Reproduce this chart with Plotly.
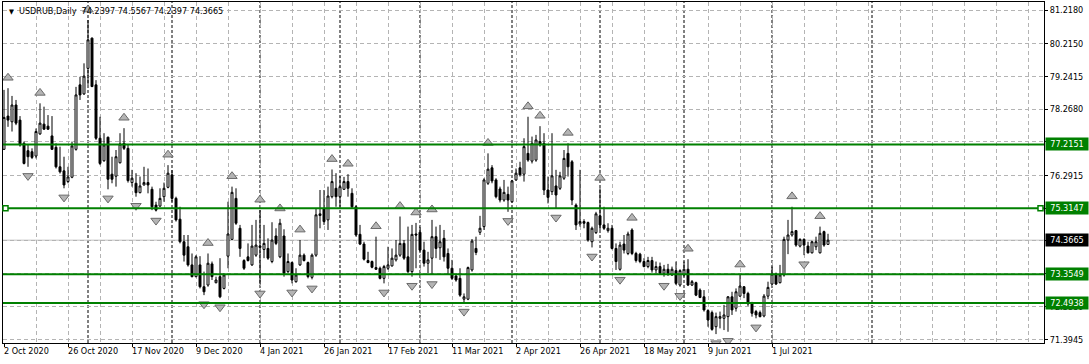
import plotly.graph_objects as go

# ---------------- data ----------------
open_ = [77.07, 78.06, 77.89, 78.39, 77.94, 77.25, 77.03, 77.00, 76.87, 77.53,
         77.82, 77.76, 77.47, 77.13, 76.55, 76.43, 76.11, 76.24, 77.07, 78.99,
         78.72, 79.48, 80.38, 78.99, 77.40, 76.73, 77.43, 76.33, 76.27, 76.67,
         77.25, 77.10, 76.08, 76.06, 75.78, 76.01, 76.08, 75.88, 75.41, 75.38,
         75.66, 75.94, 76.31, 75.61, 74.99, 74.32, 74.17, 73.63, 73.28, 73.63,
         72.98, 73.03, 73.66, 73.10, 73.28, 72.93, 73.89, 74.39, 75.61, 74.72,
         73.76, 73.87, 73.63, 73.92, 74.19, 74.09, 74.12, 73.73, 74.49, 73.87,
         74.49, 73.43, 73.70, 73.13, 73.63, 73.92, 73.70, 73.26, 73.92, 75.10,
         75.31, 74.97, 75.66, 75.91, 75.66, 75.88, 76.11, 75.76, 75.36, 74.54,
         74.25, 73.76, 73.73, 73.55, 73.53, 73.23, 73.53, 73.60, 73.78, 73.92,
         74.27, 73.87, 73.43, 74.55, 74.60, 74.07, 73.68, 73.83, 74.47, 74.14,
         74.42, 73.97, 73.53, 73.30, 73.23, 72.61, 72.61, 73.48, 74.12, 74.60,
         74.77, 76.06, 76.52, 76.16, 75.89, 75.56, 75.73, 75.51, 76.16, 76.52,
         76.33, 76.95, 76.72, 76.75, 77.30, 77.25, 75.86, 75.81, 75.98, 75.91,
         76.21, 76.95, 76.70, 75.41, 74.85, 74.92, 74.89, 74.32, 74.59, 75.09,
         74.82, 74.65, 74.72, 74.12, 73.50, 74.25, 73.97, 74.67, 73.97, 73.95,
         73.73, 73.58, 73.76, 73.48, 73.58, 73.38, 73.50, 73.33, 73.46, 73.03,
         73.33, 73.50, 73.03, 73.10, 72.88, 72.68, 72.27, 72.21, 71.79, 72.04,
         72.04, 72.09, 72.68, 72.34, 72.70, 72.98, 72.78, 72.47, 72.24, 72.21,
         72.11, 72.70, 73.06, 73.36, 73.10, 73.33, 74.37, 74.52, 74.65, 74.19,
         74.39, 74.19, 73.99, 74.17, 73.99, 74.62, 74.2397]
high = [78.84, 78.89, 78.66, 78.54, 78.06, 77.30, 77.20, 77.10, 77.69, 78.44,
        78.34, 78.09, 78.06, 77.25, 77.15, 76.85, 76.55, 77.30, 78.93, 79.23,
        79.63, 80.92, 80.40, 79.13, 78.04, 77.55, 77.45, 76.85, 77.05, 77.55,
        77.70, 77.20, 76.46, 76.36, 76.26, 76.55, 76.50, 75.96, 75.51, 75.91,
        76.08, 76.60, 76.45, 75.66, 75.36, 74.52, 74.52, 73.97, 73.92, 73.89,
        73.43, 73.97, 73.73, 73.28, 73.83, 73.38, 75.51, 75.96, 75.91, 74.82,
        73.80, 74.27, 74.82, 74.97, 75.26, 74.82, 74.42, 74.90, 74.72, 75.00,
        74.69, 73.97, 73.73, 73.53, 74.37, 73.97, 73.73, 73.97, 75.31, 75.86,
        75.86, 75.96, 76.47, 76.36, 76.28, 76.25, 76.33, 75.91, 75.41, 74.82,
        74.32, 74.02, 73.76, 74.47, 73.58, 73.63, 74.17, 74.12, 74.37, 75.07,
        74.37, 74.77, 74.82, 74.88, 74.77, 74.32, 74.02, 74.97, 74.77, 74.82,
        74.67, 74.12, 73.78, 73.38, 73.53, 72.78, 73.58, 74.40, 74.47, 75.09,
        76.21, 76.95, 76.60, 76.21, 75.96, 76.16, 75.96, 76.16, 76.50, 76.70,
        77.40, 78.04, 77.45, 77.50, 77.76, 77.55, 76.26, 77.55, 76.46, 76.40,
        77.05, 77.25, 76.75, 75.46, 76.46, 74.99, 74.92, 74.77, 75.21, 75.91,
        75.36, 74.87, 74.82, 74.27, 74.32, 74.52, 74.62, 74.72, 74.02, 73.99,
        73.83, 73.87, 73.87, 73.73, 73.70, 73.63, 73.66, 73.58, 73.73, 73.50,
        73.73, 73.80, 73.18, 73.13, 72.93, 72.88, 72.31, 72.27, 72.21, 72.24,
        72.44, 72.70, 72.83, 72.93, 73.33, 73.00, 72.83, 72.53, 72.29, 72.27,
        72.76, 73.13, 73.58, 73.40, 73.63, 74.47, 74.97, 75.36, 74.67, 74.42,
        74.42, 74.32, 74.35, 74.47, 74.77, 74.65, 74.5567]
low = [77.05, 77.74, 77.60, 77.79, 77.15, 76.62, 76.55, 76.78, 76.80, 77.50,
       77.65, 77.65, 77.05, 76.50, 76.35, 75.91, 76.06, 76.21, 77.03, 78.54,
       78.69, 78.99, 78.92, 77.35, 76.60, 76.70, 75.88, 76.06, 75.96, 76.65,
       77.05, 76.08, 75.96, 75.66, 75.76, 75.99, 75.76, 75.26, 75.22, 75.36,
       75.51, 75.91, 75.51, 74.92, 74.27, 73.73, 73.58, 73.26, 73.26, 72.93,
       72.73, 72.98, 73.18, 73.08, 72.64, 72.90, 73.53, 74.37, 74.82, 73.87,
       73.48, 73.73, 73.60, 73.87, 73.05, 73.83, 73.78, 73.68, 74.22, 73.83,
       73.28, 73.38, 73.08, 73.10, 73.60, 73.73, 73.23, 73.20, 73.87, 74.72,
       74.82, 74.67, 75.61, 75.36, 75.36, 75.86, 75.66, 75.31, 74.47, 74.22,
       73.76, 73.68, 73.53, 73.48, 73.20, 73.08, 73.48, 73.58, 73.73, 73.87,
       73.78, 73.38, 73.28, 73.53, 74.02, 73.58, 73.38, 73.33, 73.83, 73.78,
       73.73, 73.33, 73.18, 73.13, 72.68, 72.51, 72.58, 73.43, 73.92, 74.52,
       74.67, 76.01, 76.06, 75.61, 75.49, 75.51, 75.21, 75.49, 76.13, 76.26,
       76.11, 76.70, 76.65, 76.70, 77.15, 75.71, 75.46, 75.71, 75.31, 75.86,
       76.16, 76.26, 75.41, 74.67, 74.77, 74.72, 74.32, 74.15, 74.55, 74.67,
       74.67, 74.59, 74.09, 73.48, 73.46, 73.97, 73.92, 73.92, 73.70, 73.68,
       73.56, 73.53, 73.40, 73.38, 73.36, 73.28, 73.30, 73.30, 73.03, 72.98,
       73.28, 73.00, 73.00, 72.70, 72.64, 72.24, 71.79, 71.67, 71.57, 71.74,
       71.69, 71.64, 72.14, 72.24, 72.68, 72.64, 72.41, 72.09, 72.04, 72.07,
       72.07, 72.61, 73.03, 73.03, 73.08, 73.28, 73.95, 74.47, 74.17, 74.15,
       73.92, 73.97, 73.97, 74.07, 73.97, 74.17, 74.2397]
close = [78.02, 77.94, 78.39, 77.85, 77.20, 76.65, 76.85, 76.83, 77.60, 77.85,
         77.67, 77.67, 77.07, 76.55, 76.40, 76.01, 76.25, 77.17, 78.69, 78.69,
         79.25, 80.33, 78.94, 77.40, 76.65, 77.20, 76.18, 76.18, 76.85, 77.23,
         77.10, 76.14, 76.21, 75.78, 75.98, 76.08, 76.01, 75.36, 75.26, 75.61,
         75.91, 76.36, 75.61, 74.97, 74.32, 73.92, 73.63, 73.28, 73.87, 72.98,
         72.83, 73.68, 73.28, 73.18, 72.68, 73.33, 74.55, 75.79, 74.87, 74.12,
         73.53, 73.76, 74.19, 74.22, 74.15, 74.27, 73.83, 74.37, 74.27, 74.87,
         73.38, 73.73, 73.18, 73.33, 73.92, 73.76, 73.28, 73.92, 75.12, 75.15,
         74.92, 75.68, 76.11, 75.66, 75.96, 76.11, 75.91, 75.36, 74.52, 74.25,
         73.80, 73.70, 73.56, 73.50, 73.23, 73.58, 73.63, 73.83, 73.92, 74.27,
         73.83, 73.43, 74.54, 74.52, 74.07, 73.68, 73.78, 74.47, 74.12, 74.32,
         73.87, 73.53, 73.23, 73.18, 72.73, 72.68, 73.55, 74.34, 74.00, 74.72,
         76.16, 76.48, 76.13, 75.66, 75.56, 75.79, 75.56, 76.13, 76.36, 76.31,
         77.15, 76.75, 77.25, 77.35, 77.20, 75.86, 75.64, 76.28, 75.71, 76.28,
         76.80, 76.55, 75.56, 74.82, 74.92, 74.87, 74.37, 74.72, 75.15, 74.82,
         74.72, 74.72, 74.12, 73.73, 74.22, 74.07, 74.55, 73.97, 73.76, 73.73,
         73.58, 73.76, 73.48, 73.58, 73.38, 73.50, 73.38, 73.50, 73.08, 73.46,
         73.50, 73.03, 73.13, 72.73, 72.66, 72.29, 71.99, 71.71, 72.09, 72.09,
         72.14, 72.68, 72.29, 72.83, 73.00, 72.78, 72.47, 72.19, 72.14, 72.09,
         72.70, 72.96, 73.36, 73.06, 73.33, 74.39, 74.52, 74.62, 74.22, 74.39,
         74.22, 73.99, 74.32, 74.32, 74.57, 74.22, 74.3665]
bar_index = list(range(len(open_)))

up_fractal_idx = [1, 9, 21, 30, 41, 51, 57, 64, 69, 74, 82, 86, 93, 99, 103, 107,
                  121, 131, 134, 141, 149, 157, 171, 184, 197, 204]
down_fractal_idx = [6, 15, 26, 33, 38, 50, 54, 64, 72, 77, 95, 102, 107, 115, 126,
                    138, 147, 154, 165, 169, 178, 181, 188, 200]

level_prices = [77.2151, 75.3147, 73.3549, 72.4938]
level_labels = ["77.2151", "75.3147", "73.3549", "72.4938"]
last_price = 74.3665
last_label = "74.3665"

ytick_vals = [81.2180, 80.2150, 79.2415, 78.2680, 77.2945, 76.2915, 75.3180,
              74.3445, 73.3710, 72.3880, 71.3945]
ytick_text = ["81.2180", "80.2150", "79.2415", "78.2680", "77.2945", "76.2915",
              "75.3180", "74.3445", "73.3710", "72.3880", "71.3945"]

date_tick_idx = [0, 16, 32, 48, 64, 80, 96, 112, 128, 144, 160, 176, 192]
date_tick_text = ["2 Oct 2020", "26 Oct 2020", "17 Nov 2020", "9 Dec 2020",
                  "4 Jan 2021", "26 Jan 2021", "17 Feb 2021", "11 Mar 2021",
                  "2 Apr 2021", "26 Apr 2021", "18 May 2021", "9 Jun 2021",
                  "1 Jul 2021"]
month_start_idx = [21, 42, 64, 84, 104, 127, 149, 170, 192, 217]

header_text = "USDRUB,Daily  74.2397 74.5567 74.2397 74.3665"

# ---------------- styles ----------------
FONT = "DejaVu Sans Condensed, DejaVu Sans, sans-serif"
GREEN = "#008000"
GRID = "#b4b4b4"

fig = go.Figure()

fig.add_trace(go.Candlestick(
    x=bar_index, open=open_, high=high, low=low, close=close,
    increasing=dict(fillcolor="white", line=dict(color="black", width=1)),
    decreasing=dict(fillcolor="black", line=dict(color="black", width=1)),
    whiskerwidth=0, showlegend=False, hoverinfo="skip",
))

fig.add_trace(go.Scatter(
    x=up_fractal_idx, y=[high[i] + 0.31 for i in up_fractal_idx],
    mode="markers", showlegend=False, hoverinfo="skip",
    marker=dict(symbol="triangle-up", size=9, color="#b4b4b4",
                line=dict(color="#6a6a6a", width=1)),
))
fig.add_trace(go.Scatter(
    x=down_fractal_idx, y=[low[i] - 0.27 for i in down_fractal_idx],
    mode="markers", showlegend=False, hoverinfo="skip",
    marker=dict(symbol="triangle-down", size=9, color="#b4b4b4",
                line=dict(color="#6a6a6a", width=1)),
))

shapes = []
for m in month_start_idx:
    shapes.append(dict(type="line", xref="x", yref="paper", x0=m, x1=m, y0=0, y1=1,
                       line=dict(color="black", width=1, dash="3px,2px"), layer="below"))
shapes.append(dict(type="line", xref="paper", yref="y", x0=0, x1=1,
                   y0=last_price, y1=last_price,
                   line=dict(color="#c0c0c0", width=1), layer="below"))
for p in level_prices:
    shapes.append(dict(type="line", xref="paper", yref="y", x0=0, x1=1, y0=p, y1=p,
                       line=dict(color=GREEN, width=2)))
# selection squares on the 75.3147 line
sel = level_prices[1]
for xa, a, b in [(0, 0, 5), (1, -6, -1)]:
    shapes.append(dict(type="rect", xref="paper", yref="y", xsizemode="pixel",
                       ysizemode="pixel", xanchor=xa, yanchor=sel,
                       x0=a, x1=b, y0=-2.5, y1=2.5,
                       fillcolor="white", line=dict(color=GREEN, width=1.5)))

annotations = []
for idx, txt in zip(date_tick_idx, date_tick_text):
    annotations.append(dict(x=idx, xref="x", y=0, yref="paper", text=txt,
                            xanchor="left", yanchor="top", yshift=-1, xshift=-2,
                            showarrow=False, font=dict(family=FONT, size=9, color="black")))
for p, lbl in zip(level_prices, level_labels):
    annotations.append(dict(x=1, xref="paper", y=p, yref="y", text=lbl,
                            xanchor="left", yanchor="middle", xshift=1,
                            showarrow=False, bgcolor=GREEN, borderpad=1,
                            width=40, height=10, align="center",
                            font=dict(family=FONT, size=9, color="white")))
annotations.append(dict(x=1, xref="paper", y=last_price, yref="y", text=last_label,
                        xanchor="left", yanchor="middle", xshift=1,
                        showarrow=False, bgcolor="black", borderpad=1,
                        width=40, height=10, align="center",
                        font=dict(family=FONT, size=9, color="white")))
annotations.append(dict(x=0, xref="paper", y=1, yref="paper", text="▼",
                        xanchor="left", yanchor="top", xshift=4, yshift=-4,
                        showarrow=False, font=dict(family=FONT, size=7, color="black")))
annotations.append(dict(x=0, xref="paper", y=1, yref="paper", text=header_text,
                        xanchor="left", yanchor="top", xshift=14, yshift=-2,
                        showarrow=False, font=dict(family=FONT, size=9, color="black")))

fig.update_layout(
    width=1089, height=364,
    margin=dict(l=3, r=45, t=2, b=21, pad=0),
    paper_bgcolor="white", plot_bgcolor="white",
    shapes=shapes, annotations=annotations,
    showlegend=False,
    font=dict(family=FONT, size=9, color="black"),
    xaxis=dict(
        range=[-0.25, 260], rangeslider=dict(visible=False),
        tickmode="array", tickvals=date_tick_idx, showticklabels=False,
        ticks="outside", ticklen=3, tickcolor="black",
        showgrid=True, gridcolor=GRID, griddash="4px,3px", gridwidth=1,
        minor=dict(dtick=8, tick0=0, showgrid=True, gridcolor=GRID,
                   griddash="4px,3px", gridwidth=1),
        showline=True, mirror=True, linecolor="black", linewidth=1,
        zeroline=False, fixedrange=True,
    ),
    yaxis=dict(
        range=[71.305, 81.456], side="right",
        tickmode="array", tickvals=ytick_vals, ticktext=ytick_text,
        ticks="outside", ticklen=3, tickcolor="black",
        tickfont=dict(family=FONT, size=9, color="black"),
        showgrid=True, gridcolor=GRID, griddash="4px,3px", gridwidth=1,
        showline=True, mirror=True, linecolor="black", linewidth=1,
        zeroline=False, fixedrange=True,
    ),
)

fig.write_html("out.html")
